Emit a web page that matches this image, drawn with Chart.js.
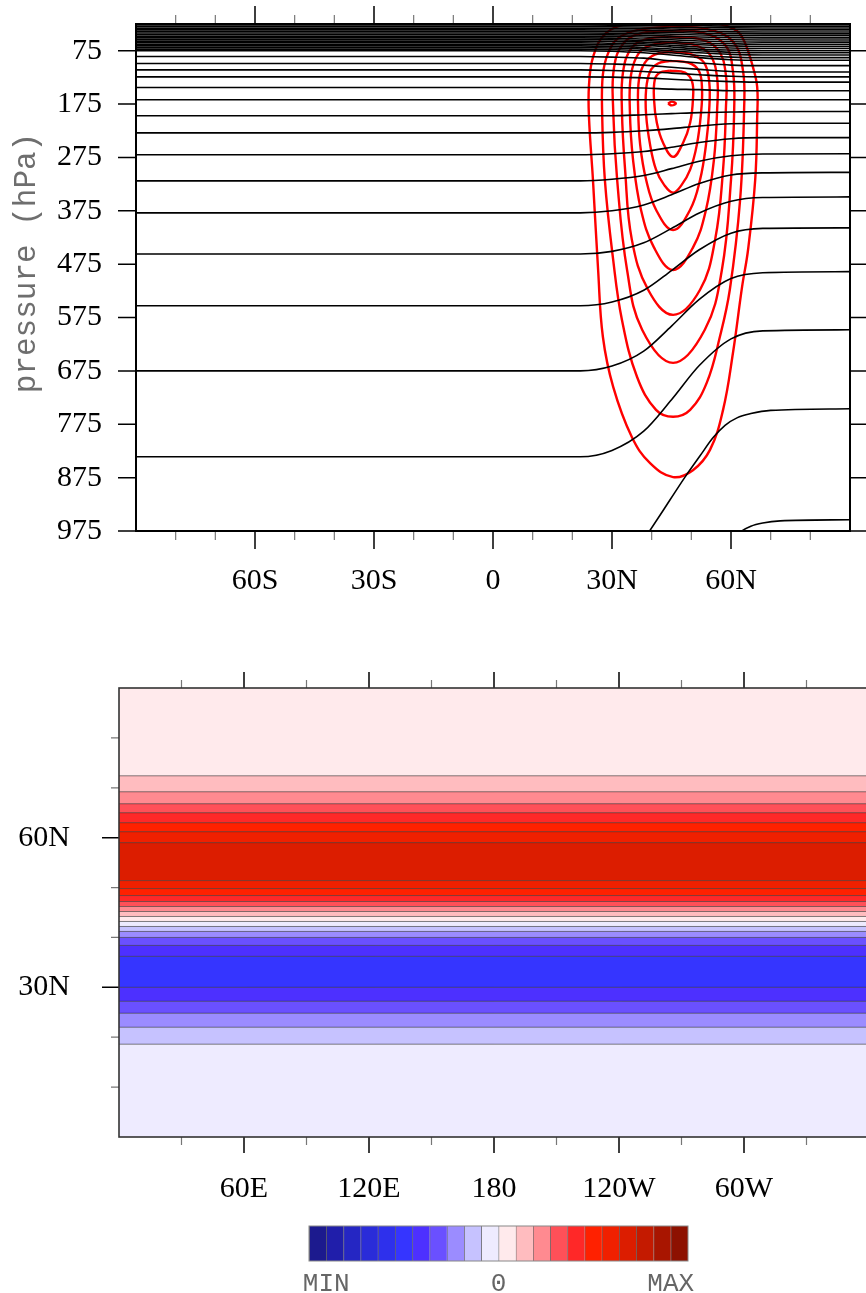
<!DOCTYPE html>
<html>
<head>
<meta charset="utf-8">
<script src="https://cdn.jsdelivr.net/npm/chart.js@4/dist/chart.umd.min.js"></script>
<style>
  html, body { margin:0; padding:0; background:#fff; }
  body { width:866px; height:1293px; overflow:hidden; position:relative; }
  canvas { position:absolute; left:0; }
</style>
</head>
<body>
<canvas id="cross" width="866" height="610" style="top:0"></canvas>
<canvas id="map" width="900" height="600" style="top:620px"></canvas>
<canvas id="cbar" width="866" height="83" style="top:1210px"></canvas>
<script>
// ---------------- DATA ----------------
// Upper panel: latitude / pressure cross section
const latTicks = [-60, -30, 0, 30, 60];
const latTickLabels = ['60S', '30S', '0', '30N', '60N'];
const latMinor = [-80, -70, -50, -40, -20, -10, 10, 20, 40, 50, 70, 80];
const presTicks = [75, 175, 275, 375, 475, 575, 675, 775, 875, 975];

// black contour lines (pressure, hPa) sampled at these latitudes
const isoLat = [-90, 22, 30, 38, 45, 52, 60, 68, 90];
const isoDense = [
  [27, 27, 27.1, 27.4, 27.9, 28.4, 28.9, 29, 29],
  [30, 30, 30.1, 30.5, 31.1, 31.8, 32.3, 32.5, 32.5],
  [33, 33, 33.2, 33.6, 34.4, 35.2, 35.8, 36, 36],
  [36, 36, 36.2, 36.8, 37.8, 38.9, 39.7, 40, 40],
  [39, 39, 39.2, 39.9, 41, 42.2, 43.2, 43.5, 43.5],
  [42, 42, 42.3, 43, 44.3, 45.6, 46.7, 47, 47],
  [45, 45, 45.3, 46.2, 47.7, 49.3, 50.6, 51, 51],
  [48, 48, 48.4, 49.4, 51.2, 53, 54.5, 55, 55],
  [51, 51, 51.4, 53, 54.6, 56.8, 58.4, 59, 59],
  [54, 54, 54.5, 56, 58, 60.5, 62, 63, 63],
  [57, 57, 57.5, 59, 61.5, 64, 66, 67, 67],
  [60, 60, 61, 62, 65, 68, 70, 71, 71],
  [63, 63, 64, 65, 68, 72, 74, 75, 75],
  [66, 66, 67, 69, 72, 75, 78, 79, 79],
  [69, 69, 70, 72, 75, 79, 82, 83, 83],
  [72, 72, 73, 75, 79, 84, 87, 88, 88]
];
const isoUpper = [
  [75, 75, 76, 79, 83, 88, 92, 93, 93],
  [86, 86, 87, 89, 94, 98, 102, 103, 103],
  [99, 99, 100, 102, 106, 110, 114, 115, 115],
  [111, 111, 112, 114, 117, 120, 123, 124, 124],
  [124, 124, 124.5, 126, 128.5, 131, 133, 134, 134],
  [144, 144, 144, 145, 147, 148, 150, 150, 150],
  [167, 167, 167, 167, 167, 167, 167, 167, 167]
];
const isoLower = [
  [197, 197, 197, 195, 193, 191, 190, 189, 189],
  [229, 229, 228, 225, 221, 216, 212, 211, 211],
  [270, 270, 268, 264, 256, 247, 240, 238, 238],
  [319, 319, 316, 309, 296, 282, 272, 268.5, 268],
  [379, 379, 375, 364, 345, 324, 308, 304, 303],
  [456, 456, 451, 435, 408, 379, 357, 350, 349],
  [553, 553, 546, 524, 487, 448, 417, 408, 407],
  [675, 675, 666, 638, 591, 541, 502, 491, 489],
  [836, 836, 824, 788, 729, 665, 615, 600, 598]
];
const isoNH1Lat = [34.5, 39.3, 44.6, 48.4, 52.2, 55.5, 58.5, 61.5, 65, 70, 90];
const isoNH1P   = [1030, 977, 917, 874, 834, 800, 777, 763, 755, 749, 746];
const isoNH2Lat = [58, 62.3, 65, 68, 72.4, 90];
const isoNH2P   = [1010, 977, 966, 960, 956, 954];

// red jet contours, [lat, hPa]
const jet0 = [[44.1,174],[45.1,170.5],[46.1,174],[45.1,177.5],[44.1,174]];
const jet1 = [[44.6,112.5],[48.4,116],[50.2,133],[50.4,167],[49.7,210],[47.9,248],[45.4,274],[42.9,248],[41.3,210],[40.6,167],[40.8,129],[42.1,116],[44.6,112.5]];
const jet2 = [[44.6,94],[49.2,97.5],[51.9,112.5],[52.7,148],[52.4,195],[51.4,251],[49.7,298],[47.6,326],[45.4,341],[43.1,326],[41.1,298],[39.6,251],[38.6,195],[38.6,148],[39.6,114],[41.6,99],[44.6,94]];
const jet3 = [[44.6,77],[49.7,81],[53.2,97.5],[54.5,133],[54.5,186],[53.7,251],[52.2,317],[49.7,373],[45.4,411],[41.1,373],[38.6,317],[37.1,251],[36.6,186],[36.8,129],[38.3,97.5],[40.8,82.5],[44.6,77]];
const jet4 = [[44.6,60],[50.7,64],[54.7,82.5],[56.5,126],[56.5,186],[55.7,279],[53.7,373],[50.4,444],[45.4,486],[40.6,444],[37.3,373],[35.3,279],[34.5,186],[34.8,120],[36.8,79],[40.1,64],[44.6,60]];
const jet5 = [[44.6,49],[51.7,52.5],[56.7,73],[58.7,120],[58.7,186],[58.0,298],[56.0,429],[52.2,523],[45.4,570],[39.1,523],[35.0,429],[33.3,298],[32.5,186],[32.8,114],[35.0,69],[39.1,52.5],[44.6,49]];
const jet6 = [[44.6,37.5],[52.7,41],[58.5,64],[60.5,114],[60.8,186],[60.0,317],[57.7,486],[53.4,598],[45.4,660],[37.6,598],[33.8,486],[31.3,317],[30.3,186],[30.5,107],[33.0,60],[38.1,41],[44.6,37.5]];
const jet7 = [[44.6,30],[53.7,34],[60.5,58],[63.0,111],[63.3,186],[62.3,354],[59.7,523],[57.2,611],[53.9,697],[49.7,748],[45.4,761],[41.1,748],[36.3,686],[32.5,579],[30.3,467],[28.2,317],[27.5,186],[27.7,120],[29.0,80],[31.5,52],[36.6,36],[44.6,30]];
const jet8 = [[44.6,17],[56.5,24],[61.5,38],[63.5,60],[65.5,105],[66.6,143],[66.6,200],[66.1,317],[64.3,448],[62.8,517],[60.5,641],[58.0,748],[54.7,823],[50.4,861],[45.4,874],[39.6,848],[35.0,799],[30.3,705],[27.7,611],[26.5,486],[25.2,317],[24.2,200],[24.2,140],[25.3,85],[28.5,42],[34.5,24],[44.6,17]];

// Lower panel: zonal bands (lat edges) and colour level of each band
const lonTicks = [60, 120, 180, 240, 300];
const lonTickLabels = ['60E', '120E', '180', '120W', '60W'];
const lonMinor = [30, 90, 150, 210, 270, 330];
const mapLatTicks = [30, 60];
const mapLatTickLabels = ['30N', '60N'];
const mapLatMinor = [10, 20, 40, 50, 70, 80];
const bandEdges = [0, 18.6, 22.0, 24.8, 27.2, 30.0, 36.2, 38.4, 40.0, 41.2, 42.2, 43.2, 44.2, 45.2, 46.2, 47.2, 48.4, 49.8, 51.4, 59.0, 61.2, 63.0, 65.0, 66.8, 69.2, 72.4, 90];
const bandLevel = [11, 10, 9, 8, 7, 6, 7, 8, 9, 10, 11, 12, 13, 14, 15, 16, 17, 18, 19, 18, 17, 16, 15, 14, 13, 12];

// Colour bar
const palette = ['#1c1a8e','#201eaa','#2526c3','#2a2cd9','#2e30ec','#3535ff','#4d30ff','#6a50ff','#9b8cff','#c6c2ff','#eeebff','#ffeaec','#ffbcbf','#ff8a90','#ff5058','#ff2828','#ff2100','#f02000','#dc1d00','#c41a00','#a81500','#8d1100'];
const cbTickPos = [1, 11, 21];
const cbLabels = ['MIN', '0', 'MAX'];

// ---------------- PLUGIN: frame, outward ticks, side title ----------------
const frameTicks = {
  id: 'frameTicks',
  afterDraw(chart, args, o) {
    const ctx = chart.ctx, a = chart.chartArea;
    ctx.save();
    for (const m of (o.marks || [])) {
      const sc = chart.scales[m.scale];
      ctx.strokeStyle = m.color; ctx.lineWidth = m.width; ctx.lineCap = 'butt';
      ctx.beginPath();
      for (const v of m.values) {
        const p = sc.getPixelForValue(v);
        for (const side of m.sides) {
          if (side === 'top')    { ctx.moveTo(p, a.top);    ctx.lineTo(p, a.top - m.len); }
          if (side === 'bottom') { ctx.moveTo(p, a.bottom); ctx.lineTo(p, a.bottom + m.len); }
          if (side === 'left')   { ctx.moveTo(a.left, p);   ctx.lineTo(a.left - m.len, p); }
          if (side === 'right')  { ctx.moveTo(a.right, p);  ctx.lineTo(a.right + m.len, p); }
        }
      }
      ctx.stroke();
    }
    if (o.frame) {
      ctx.strokeStyle = o.frame.color; ctx.lineWidth = o.frame.width;
      ctx.strokeRect(a.left, a.top, a.right - a.left, a.bottom - a.top);
    }
    if (o.title) {
      ctx.fillStyle = o.title.color; ctx.font = o.title.font;
      ctx.textAlign = 'center'; ctx.textBaseline = 'alphabetic';
      ctx.translate(o.title.x, o.title.y); ctx.rotate(-Math.PI / 2);
      ctx.fillText(o.title.text, 0, 0);
    }
    ctx.restore();
  }
};

Chart.defaults.font.family = '"Liberation Serif", serif';
Chart.defaults.color = '#000';
const tickFont = { family: '"Liberation Serif", serif', size: 30 };
// invisible tick marks used only as label spacing
const spacer = len => ({ display: true, drawOnChartArea: false, drawTicks: true, tickLength: len, tickColor: 'rgba(0,0,0,0)' });

// ---------------- UPPER PANEL ----------------
const blackRows = [...isoDense, ...isoUpper, ...isoLower];
const crossSets = blackRows.map(row => ({
  data: isoLat.map((lat, j) => ({ x: lat, y: row[j] })),
  borderColor: '#000', borderWidth: 1.6, cubicInterpolationMode: 'monotone'
}));
crossSets.push({ data: isoNH1Lat.map((l, j) => ({ x: l, y: isoNH1P[j] })), borderColor: '#000', borderWidth: 1.6, cubicInterpolationMode: 'monotone' });
crossSets.push({ data: isoNH2Lat.map((l, j) => ({ x: l, y: isoNH2P[j] })), borderColor: '#000', borderWidth: 1.6, cubicInterpolationMode: 'monotone' });
[jet0, jet1, jet2, jet3, jet4, jet5, jet6, jet7, jet8].forEach(c => {
  crossSets.push({ data: c.map(([x, y]) => ({ x, y })), borderColor: '#ff0000', borderWidth: 2.4, tension: 0.4 });
});

new Chart(document.getElementById('cross'), {
  type: 'line',
  data: { datasets: crossSets },
  plugins: [frameTicks],
  options: {
    responsive: false, animation: false, devicePixelRatio: 1,
    layout: { padding: { top: 24, right: 16, left: 0, bottom: 0 } },
    elements: { point: { radius: 0 } },
    plugins: {
      legend: { display: false }, tooltip: { enabled: false },
      frameTicks: {
        marks: [
          { scale: 'x', values: latTicks, sides: ['top', 'bottom'], len: 18, color: '#000', width: 1.5 },
          { scale: 'x', values: latMinor, sides: ['top', 'bottom'], len: 9, color: '#777', width: 1.2 },
          { scale: 'y', values: presTicks, sides: ['left'], len: 18, color: '#000', width: 1.5 },
          { scale: 'y', values: presTicks, sides: ['right'], len: 17, color: '#000', width: 1.5 }
        ],
        frame: { color: '#000', width: 2 },
        title: { text: 'pressure (hPa)', font: '31px "Liberation Mono", monospace', color: '#6e6e6e', x: 35, y: 263 }
      }
    },
    scales: {
      x: {
        type: 'linear', min: -90, max: 90,
        afterBuildTicks: s => { s.ticks = latTicks.map(v => ({ value: v })); },
        afterFit: s => { s.height = 79; },
        grid: spacer(32), border: { display: false },
        ticks: { font: tickFont, color: '#000', padding: 0, maxRotation: 0, autoSkip: false,
                 callback: (v, i) => latTickLabels[i] }
      },
      y: {
        type: 'linear', min: 25, max: 975, reverse: true,
        afterBuildTicks: s => { s.ticks = presTicks.map(v => ({ value: v })); },
        afterFit: s => { s.width = 136; },
        grid: spacer(34), border: { display: false },
        ticks: { font: tickFont, color: '#000', padding: 0, autoSkip: false,
                 callback: (v, i) => String(presTicks[i]) }
      }
    }
  }
});

// ---------------- LOWER PANEL ----------------
const bandSets = bandEdges.map((e, i) => ({
  data: [{ x: 0, y: e }, { x: 360, y: e }],
  fill: i === 0 ? false : '-1',
  backgroundColor: i === 0 ? 'rgba(0,0,0,0)' : palette[bandLevel[i - 1] - 1],
  borderColor: (i === 0 || i === bandEdges.length - 1) ? 'rgba(0,0,0,0)' : 'rgba(30,30,30,0.55)',
  borderWidth: 1, tension: 0
}));

new Chart(document.getElementById('map'), {
  type: 'line',
  data: { datasets: bandSets },
  plugins: [frameTicks],
  options: {
    responsive: false, animation: false, devicePixelRatio: 1,
    layout: { padding: { top: 68, right: 31, left: 0, bottom: 0 } },
    elements: { point: { radius: 0 } },
    plugins: {
      legend: { display: false }, tooltip: { enabled: false },
      filler: { propagate: false, drawTime: 'beforeDatasetsDraw' },
      frameTicks: {
        marks: [
          { scale: 'x', values: lonTicks, sides: ['top', 'bottom'], len: 16, color: '#000', width: 1.5 },
          { scale: 'x', values: lonMinor, sides: ['top', 'bottom'], len: 8, color: '#777', width: 1.2 },
          { scale: 'y', values: mapLatTicks, sides: ['left'], len: 17, color: '#000', width: 1.5 },
          { scale: 'y', values: mapLatMinor, sides: ['left'], len: 8, color: '#777', width: 1.2 }
        ],
        frame: { color: '#333', width: 1.6 }
      }
    },
    scales: {
      x: {
        type: 'linear', min: 0, max: 360,
        afterBuildTicks: s => { s.ticks = lonTicks.map(v => ({ value: v })); },
        afterFit: s => { s.height = 83; },
        grid: spacer(34), border: { display: false },
        ticks: { font: tickFont, color: '#000', padding: 0, maxRotation: 0, autoSkip: false,
                 callback: (v, i) => lonTickLabels[i] }
      },
      y: {
        type: 'linear', min: 0, max: 90,
        afterBuildTicks: s => { s.ticks = mapLatTicks.map(v => ({ value: v })); },
        afterFit: s => { s.width = 119; },
        grid: spacer(49), border: { display: false },
        ticks: { font: tickFont, color: '#000', padding: 0, autoSkip: false,
                 callback: (v, i) => mapLatTickLabels[i] }
      }
    }
  }
});

// ---------------- COLOUR BAR ----------------
new Chart(document.getElementById('cbar'), {
  type: 'bar',
  data: {
    labels: [''],
    datasets: palette.map(c => ({
      data: [1], backgroundColor: c, borderColor: 'rgba(0,0,0,0.6)',
      borderWidth: { left: 1, right: 0, top: 0, bottom: 0 }, borderSkipped: false,
      barPercentage: 1, categoryPercentage: 1
    }))
  },
  plugins: [frameTicks],
  options: {
    indexAxis: 'y', responsive: false, animation: false, devicePixelRatio: 1,
    layout: { padding: { left: 309, right: 178, top: 16, bottom: 0 } },
    plugins: { legend: { display: false }, tooltip: { enabled: false },
               frameTicks: { frame: { color: '#888', width: 1 } } },
    scales: {
      x: {
        stacked: true, min: 0, max: 22,
        afterBuildTicks: s => { s.ticks = cbTickPos.map(v => ({ value: v })); },
        afterFit: s => { s.height = 32; },
        grid: { display: false }, border: { display: false },
        ticks: { font: { family: '"Liberation Mono", monospace', size: 26 }, color: '#666', padding: 0,
                 maxRotation: 0, autoSkip: false, callback: (v, i) => cbLabels[i] }
      },
      y: { stacked: true, display: false }
    }
  }
});
</script>
</body>
</html>
